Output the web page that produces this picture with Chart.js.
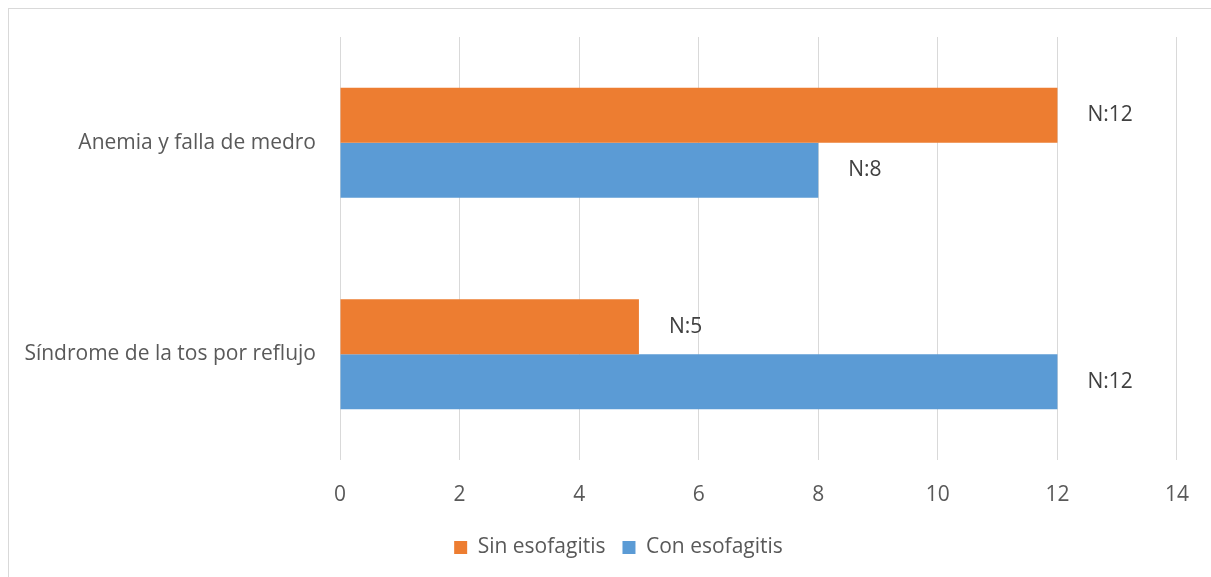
<!DOCTYPE html>
<html>
<head>
<meta charset="utf-8">
<script src="https://cdn.jsdelivr.net/npm/chart.js@4.4.1/dist/chart.umd.min.js"></script>
<style>
	html, body { margin: 0; padding: 0; background: #fff; overflow: hidden; }
	#frame { position: absolute; left: 8px; top: 8px; width: 1400px; height: 800px; border: 1px solid #d9d9d9; box-sizing: border-box; }
	#wrap { position: absolute; left: 0; top: 0; width: 1211px; height: 577px; }
</style>
</head>
<body>
<div id="frame"></div>
<div id="wrap"><canvas id="chart"></canvas></div>
<script>
var categories = ['Anemia y falla de medro', 'Síndrome de la tos por reflujo'];
var sinEsofagitis = [12, 5];
var conEsofagitis = [8, 12];
var xTicks = [0, 2, 4, 6, 8, 10, 12, 14];

var FONT = 'Open Sans, sans-serif';

// value labels ("N:x") just past the end of each bar
var barLabels = {
	id: 'barLabels',
	afterDatasetsDraw: function (chart) {
		var ctx = chart.ctx;
		ctx.save();
		ctx.font = '21px ' + FONT;
		ctx.fillStyle = '#404040';
		ctx.textAlign = 'left';
		ctx.textBaseline = 'middle';
		chart.data.datasets.forEach(function (ds, i) {
			chart.getDatasetMeta(i).data.forEach(function (bar, j) {
				ctx.fillText('N:' + ds.data[j], bar.x + 30, bar.y);
			});
		});
		ctx.restore();
	}
};

// centre the legend under the plot rather than under the whole canvas
var legendShift = {
	id: 'legendShift',
	afterLayout: function (chart) {
		if (chart.legend) chart.legend.left += 60;
	}
};

new Chart(document.getElementById('chart'), {
	type: 'bar',
	data: {
		labels: categories,
		datasets: [
			{ label: 'Sin esofagitis', data: sinEsofagitis, backgroundColor: '#ED7D31', borderWidth: 0 },
			{ label: 'Con esofagitis', data: conEsofagitis, backgroundColor: '#5B9BD5', borderWidth: 0 }
		]
	},
	plugins: [barLabels, legendShift],
	options: {
		indexAxis: 'y',
		responsive: true,
		maintainAspectRatio: false,
		animation: false,
		barPercentage: 1,
		categoryPercentage: 0.52,
		layout: { padding: { top: 37, right: 34, bottom: 9, left: 0 } },
		plugins: {
			tooltip: { enabled: false },
			legend: {
				position: 'bottom',
				labels: { boxWidth: 13, boxHeight: 13, padding: 17, color: '#595959', font: { family: FONT, size: 21 } }
			}
		},
		scales: {
			x: {
				min: 0, max: 14,
				afterBuildTicks: function (s) { s.ticks = xTicks.map(function (v) { return { value: v }; }); },
				afterFit: function (s) { s.height = 60; },
				ticks: { padding: 22, color: '#595959', font: { family: FONT, size: 21 } },
				grid: { color: '#d9d9d9', lineWidth: 1, drawTicks: false },
				border: { display: false }
			},
			y: {
				afterFit: function (s) { s.width = 340; },
				ticks: { padding: 24, color: '#595959', font: { family: FONT, size: 21 } },
				grid: { display: false, drawTicks: false },
				border: { display: false }
			}
		}
	}
});
</script>
</body>
</html>
